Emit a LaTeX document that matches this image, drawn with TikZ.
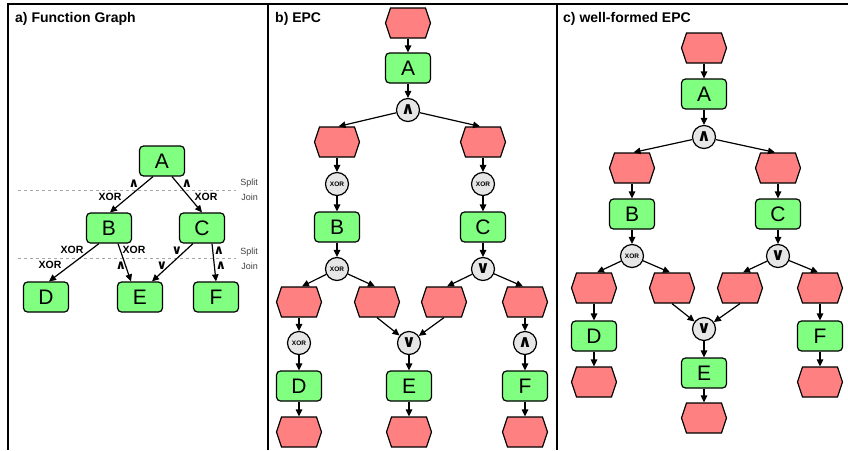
\documentclass[tikz,border=0pt]{standalone}
\usepackage{fontspec}
\setmainfont{Liberation Sans}
\newfontfamily\opfont{DejaVu Sans}
\usetikzlibrary{arrows.meta,shapes.symbols}
\definecolor{funcgreen}{RGB}{128,255,128}
\definecolor{eventred}{RGB}{255,128,128}
\definecolor{conngray}{RGB}{230,230,230}
\newcommand{\opand}{{\opfont\bfseries ∧}}
\newcommand{\opor}{{\opfont\bfseries ∨}}

\begin{document}
\begin{tikzpicture}[x=1pt,y=-1pt,>={Triangle[length=7pt,width=6.5pt]},
  func/.style={rectangle,rounded corners=4pt,draw=black,fill=funcgreen,line width=1.2pt,
    minimum width=45pt,minimum height=30pt,inner sep=0pt,font=\fontsize{21}{21}\selectfont},
  event/.style={shape=signal,signal to=west and east,signal pointer angle=143,draw=black,
    fill=eventred,line width=1.2pt,minimum width=45pt,minimum height=30pt,inner sep=0pt},
  conn/.style={circle,draw=black,fill=conngray,line width=1.2pt,minimum size=23pt,
    inner sep=0pt,font=\fontsize{17}{17}\selectfont},
  xconn/.style={conn,font=\fontsize{6.5}{6.5}\selectfont\bfseries},
  flow/.style={->,line width=1.2pt},
  title/.style={anchor=west,inner sep=0pt,font=\fontsize{14}{14}\selectfont\bfseries},
  lbl/.style={inner sep=0pt,font=\fontsize{10.5}{10.5}\selectfont\bfseries},
  oplbl/.style={inner sep=0pt,font=\fontsize{13}{13}\selectfont},
  note/.style={anchor=east,inner sep=0pt,text=black!75,font=\fontsize{9}{9}\selectfont}]
  \useasboundingbox (0,0) rectangle (848,450);

  % frames:
  \draw[line width=1.5pt] (8,450) -- (8,4) -- (848,4);
  \draw[line width=1.5pt] (268,4) -- (268,450);
  \draw[line width=1.5pt] (557,4) -- (557,450);

  % a) function graph
  \node[title] (ta) at (15,19) {a) Function Graph};
  \draw[dashed,black!35,line width=0.8pt] (18,190) -- (236,190);
  \draw[dashed,black!35,line width=0.8pt] (18,258) -- (236,258);
  \node[note] (split1) at (258,183) {Split};
  \node[note] (join1) at (258,197) {Join};
  \node[note] (split2) at (258,252) {Split};
  \node[note] (join2) at (258,266) {Join};

  \node[func] (fA) at (162,161) {A};
  \node[func] (fB) at (109,228) {B};
  \node[func] (fC) at (202,228) {C};
  \node[func] (fD) at (46,297) {D};
  \node[func] (fE) at (140,297) {E};
  \node[func] (fF) at (216,297) {F};

  \draw[flow] ([xshift=-9pt]fA.south) -- ([xshift=1pt]fB.north);
  \draw[flow] ([xshift=10pt]fA.south) -- (fC.north);
  \draw[flow] ([xshift=-10pt]fB.south) -- ([xshift=3pt]fD.north);
  \draw[flow] ([xshift=9pt]fB.south) -- ([xshift=-9pt]fE.north);
  \draw[flow] ([xshift=-9pt]fC.south) -- ([xshift=12pt]fE.north);
  \draw[flow] ([xshift=10pt]fC.south) -- (fF.north);

  \node[oplbl] (lAB1) at (134,184) {\opand};
  \node[lbl] (lAB2) at (110,197) {XOR};
  \node[oplbl] (lAC1) at (187,184) {\opand};
  \node[lbl] (lAC2) at (206,197) {XOR};
  \node[lbl] (lBD1) at (72,250) {XOR};
  \node[lbl] (lBD2) at (50,265) {XOR};
  \node[lbl] (lBE1) at (134,250) {XOR};
  \node[oplbl] (lBE2) at (121,266) {\opand};
  \node[oplbl] (lCE1) at (177,251) {\opor};
  \node[oplbl] (lCE2) at (162,266) {\opor};
  \node[oplbl] (lCF1) at (219,251) {\opand};
  \node[oplbl] (lCF2) at (221,266) {\opand};

  % b) EPC
  \node[title] (tb) at (275,19) {b) EPC};
  \node[event] (bev0) at (408,23) {};
  \node[func] (bA) at (408,68) {A};
  \node[conn] (band1) at (408,110) {\opand};
  \node[event] (bev1) at (337,142) {};
  \node[event] (bev2) at (483,142) {};
  \node[xconn] (bxor1) at (337,184) {XOR};
  \node[xconn] (bxor2) at (483,184) {XOR};
  \node[func] (bB) at (337,227) {B};
  \node[func] (bC) at (483,227) {C};
  \node[xconn] (bxor3) at (337,269) {XOR};
  \node[conn] (bor1) at (483,269) {\opor};
  \node[event] (bev3) at (299,302) {};
  \node[event] (bev4) at (377,302) {};
  \node[event] (bev5) at (444,302) {};
  \node[event] (bev6) at (525,302) {};
  \node[xconn] (bxor4) at (299,343) {XOR};
  \node[conn] (bor2) at (409,343) {\opor};
  \node[conn] (band2) at (525,343) {\opand};
  \node[func] (bD) at (299,386) {D};
  \node[func] (bE) at (409,386) {E};
  \node[func] (bF) at (525,386) {F};
  \node[event] (bev7) at (299,432) {};
  \node[event] (bev8) at (409,432) {};
  \node[event] (bev9) at (525,432) {};

  \foreach \from/\to in {bev0/bA, bA/band1, bev1/bxor1, bxor1/bB, bev2/bxor2, bxor2/bC,
      bB/bxor3, bC/bor1, bev3/bxor4, bxor4/bD, bD/bev7, bor2/bE, bE/bev8,
      bev6/band2, band2/bF, bF/bev9}
    \draw[flow] (\from) -- (\to);
  \draw[flow] (band1) -- ([xshift=1.5pt]bev1.north);
  \draw[flow] (band1) -- ([xshift=-3pt]bev2.north);
  \draw[flow] (bxor3) -- ([xshift=3pt]bev3.north);
  \draw[flow] (bxor3) -- ([xshift=-2pt]bev4.north);
  \draw[flow] (bor1) -- ([xshift=3pt]bev5.north);
  \draw[flow] (bor1) -- ([xshift=-2pt]bev6.north);
  \draw[flow] (bev4.south) -- (bor2);
  \draw[flow] (bev5.south) -- (bor2);

  % c) well-formed EPC
  \node[title] (tc) at (563,19) {c) well-formed EPC};
  \node[event] (cev0) at (704,48) {};
  \node[func] (cA) at (704,94) {A};
  \node[conn] (cand1) at (704,137) {\opand};
  \node[event] (cev1) at (632,168) {};
  \node[event] (cev2) at (778,168) {};
  \node[func] (cB) at (632,214) {B};
  \node[func] (cC) at (778,214) {C};
  \node[xconn] (cxor1) at (632,256) {XOR};
  \node[conn] (cor1) at (778,256) {\opor};
  \node[event] (cev3) at (594,288) {};
  \node[event] (cev4) at (672,288) {};
  \node[event] (cev5) at (740,288) {};
  \node[event] (cev6) at (820,288) {};
  \node[func] (cD) at (594,336) {D};
  \node[conn] (cor2) at (704,329) {\opor};
  \node[func] (cF) at (820,336) {F};
  \node[func] (cE) at (704,373) {E};
  \node[event] (cev7) at (594,382) {};
  \node[event] (cev9) at (820,382) {};
  \node[event] (cev8) at (704,418) {};

  \foreach \from/\to in {cev0/cA, cA/cand1, cev1/cB, cev2/cC, cB/cxor1, cC/cor1,
      cev3/cD, cD/cev7, cor2/cE, cE/cev8, cev6/cF, cF/cev9}
    \draw[flow] (\from) -- (\to);
  \draw[flow] (cand1) -- ([xshift=1.5pt]cev1.north);
  \draw[flow] (cand1) -- ([xshift=-3pt]cev2.north);
  \draw[flow] (cxor1) -- ([xshift=3pt]cev3.north);
  \draw[flow] (cxor1) -- ([xshift=-2pt]cev4.north);
  \draw[flow] (cor1) -- ([xshift=3pt]cev5.north);
  \draw[flow] (cor1) -- ([xshift=-2pt]cev6.north);
  \draw[flow] (cev4.south) -- (cor2);
  \draw[flow] (cev5.south) -- (cor2);
\end{tikzpicture}
\end{document}
